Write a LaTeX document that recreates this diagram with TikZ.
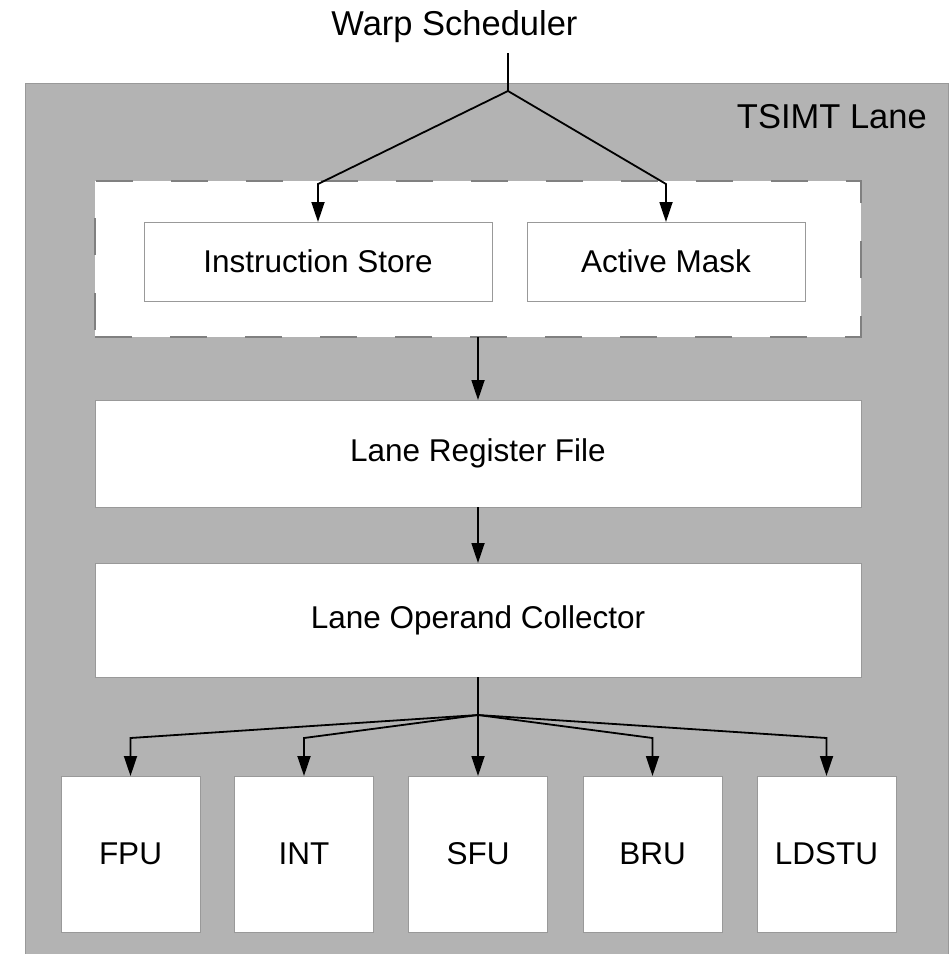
\documentclass[tikz,border=0pt]{standalone}
\usepackage{fontspec}
\setmainfont{Liberation Sans}
\usetikzlibrary{arrows.meta}
\definecolor{lanegray}{HTML}{B3B3B3}
\definecolor{edgegray}{HTML}{999999}
\definecolor{dashgray}{HTML}{808080}
\begin{document}
\begin{tikzpicture}[x=1pt,y=-1pt,
  label text/.style={font=\fontsize{31.5pt}{36pt}\selectfont},
  title text/.style={font=\fontsize{34.5pt}{40pt}\selectfont},
  unit/.style={draw=edgegray, fill=white, line width=1pt, inner sep=0pt,
    outer sep=0pt, label text},
  issuebox/.style={draw=dashgray, fill=white, line width=1.5pt,
    dash pattern=on 37pt off 38pt, inner sep=0pt, outer sep=0pt},
  wire/.style={line width=1.8pt},
  flow/.style={wire, -{Triangle[length=20pt,width=13pt]}}]

\useasboundingbox (0,0) rectangle (952,954);
\clip (0,0) rectangle (952,954);

% lane background
\fill[lanegray] (25,83) rectangle (948,970);
\draw[edgegray, line width=1pt] (25,970) -- (25,83) -- (948,83) -- (948,970);
\node[title text, anchor=base east, inner sep=0pt] (lane) at (927,128) {TSIMT Lane};

% issue stage
\node[issuebox, minimum width=766pt, minimum height=156pt] (issue) at (478,259) {};
\node[unit, minimum width=348pt, minimum height=79pt] (instr) at (318,261.5) {Instruction Store};
\node[unit, minimum width=278pt, minimum height=79pt] (mask) at (666,261.5) {Active Mask};

% register file and operand collector
\node[unit, minimum width=766pt, minimum height=107pt] (regs) at (478,453.5) {Lane Register File};
\node[unit, minimum width=766pt, minimum height=114pt] (opc) at (478,620) {Lane Operand Collector};

% execution units
\foreach \name/\txt/\cx in {fpu/FPU/130.5, int/INT/304, sfu/SFU/478, bru/BRU/652.5, ldst/LDSTU/826.5}
  \node[unit, minimum width=139pt, minimum height=156pt] (\name) at (\cx,854) {\txt};

% warp scheduler
\node[title text, anchor=base, inner sep=0pt] (ws) at (454.5,35) {Warp Scheduler};
\coordinate (wsout) at (508,53);
\coordinate (fork) at (508,91);
\draw[wire] (wsout) -- (fork);
\draw[flow] (fork) -- ([yshift=38pt]instr.north) -- (instr.north);
\draw[flow] (fork) -- ([yshift=38pt]mask.north) -- (mask.north);

% vertical pipeline
\draw[flow] (issue.south) -- (regs.north);
\draw[flow] (regs.south) -- (opc.north);

% dispatch to units
\coordinate (dispatch) at (478,715);
\draw[wire] (opc.south) -- (dispatch);
\draw[flow] (dispatch) -- (sfu.north);
\foreach \name in {fpu,int,bru,ldst}
  \draw[flow] (dispatch) -- ([yshift=38pt]\name.north) -- (\name.north);
\end{tikzpicture}
\end{document}
